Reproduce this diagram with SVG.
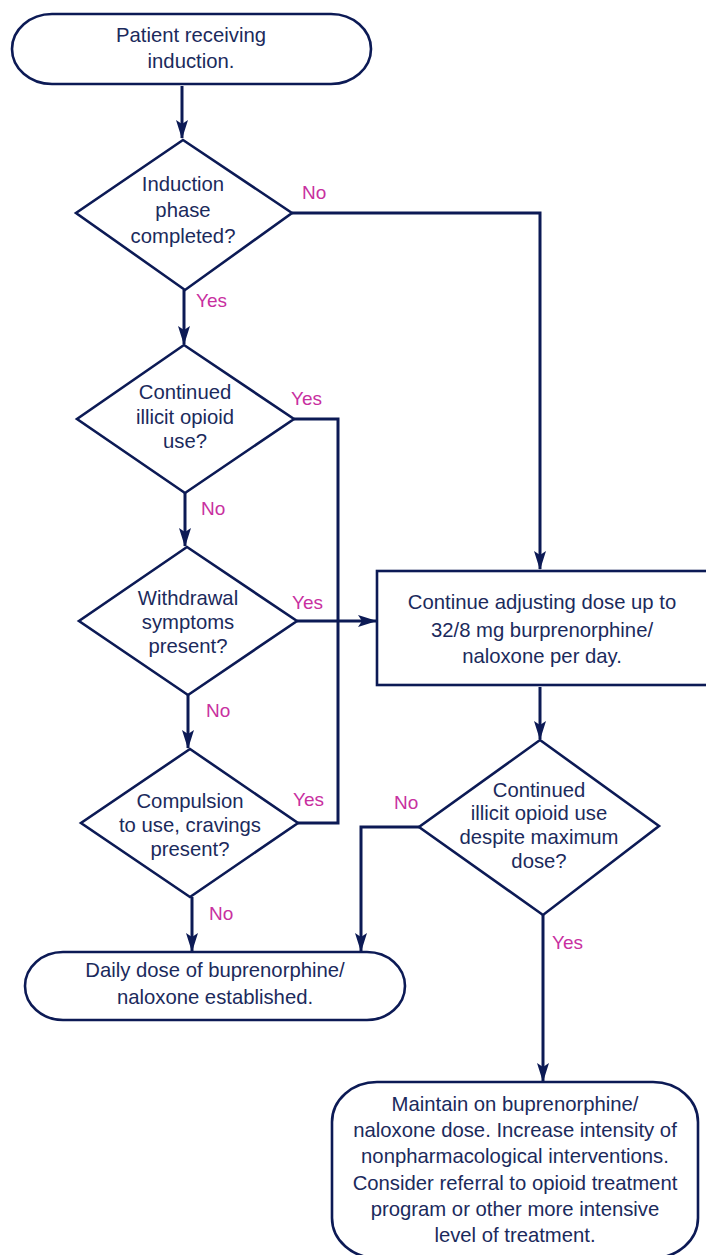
<svg xmlns="http://www.w3.org/2000/svg" width="706" height="1255" viewBox="0 0 706 1255">
<defs>
<style>
.shape{fill:#ffffff;stroke:#0c1a55;stroke-width:2.6;stroke-linejoin:miter}
.conn{fill:none;stroke:#0c1a55;stroke-width:3}
.t{font-family:"Liberation Sans",Arial,sans-serif;font-size:20.3px;fill:#1b2a5c;text-anchor:middle}
.lbl{font-family:"Liberation Sans",Arial,sans-serif;font-size:19px;fill:#c8309f}
</style>
<marker id="ah" markerUnits="userSpaceOnUse" markerWidth="20" markerHeight="12" refX="18" refY="6" orient="auto">
<path d="M0,0 L19,6 L0,12 L4,6 z" fill="#0c1a55"/>
</marker>
</defs>
<rect width="706" height="1255" fill="#ffffff"/>

<g id="connectors">
<path class="conn" d="M182,86 V138" marker-end="url(#ah)"/>
<path class="conn" d="M292,213 H540 V569" marker-end="url(#ah)"/>
<path class="conn" d="M184,290 V344" marker-end="url(#ah)"/>
<path class="conn" d="M294,419 H338 V823 H298"/>
<path class="conn" d="M185,493 V546" marker-end="url(#ah)"/>
<path class="conn" d="M297,621 H376" marker-end="url(#ah)"/>
<path class="conn" d="M188,695 V748" marker-end="url(#ah)"/>
<path class="conn" d="M192,897 V951" marker-end="url(#ah)"/>
<path class="conn" d="M540,687 V739" marker-end="url(#ah)"/>
<path class="conn" d="M419,827 H361 V951" marker-end="url(#ah)"/>
<path class="conn" d="M543,915 V1081" marker-end="url(#ah)"/>
</g>

<g id="start">
<rect class="shape" x="12" y="14" width="359" height="70" rx="40" ry="35"/>
<text class="t" x="191" y="42">Patient receiving</text>
<text class="t" x="191" y="68">induction.</text>
</g>

<g id="d-induction">
<polygon class="shape" points="183,140 292,213 185,290 76,213"/>
<text class="t" x="183" y="191">Induction</text>
<text class="t" x="183" y="217">phase</text>
<text class="t" x="183" y="243">completed?</text>
<text class="lbl" x="302" y="199">No</text>
<text class="lbl" x="196" y="307">Yes</text>
</g>

<g id="d-illicit">
<polygon class="shape" points="184,345 294,419 185,493 77,419"/>
<text class="t" x="185" y="399">Continued</text>
<text class="t" x="185" y="424">illicit opioid</text>
<text class="t" x="185" y="448">use?</text>
<text class="lbl" x="291" y="405">Yes</text>
<text class="lbl" x="201" y="515">No</text>
</g>

<g id="d-withdrawal">
<polygon class="shape" points="187,547 297,621 188,695 79,621"/>
<text class="t" x="188" y="605">Withdrawal</text>
<text class="t" x="188" y="629">symptoms</text>
<text class="t" x="188" y="653">present?</text>
<text class="lbl" x="292" y="609">Yes</text>
<text class="lbl" x="206" y="717">No</text>
</g>

<g id="d-compulsion">
<polygon class="shape" points="190,749 298,823 190,897 81,823"/>
<text class="t" x="190" y="808">Compulsion</text>
<text class="t" x="190" y="832">to use, cravings</text>
<text class="t" x="190" y="856">present?</text>
<text class="lbl" x="293" y="806">Yes</text>
<text class="lbl" x="209" y="920">No</text>
</g>

<g id="daily-dose">
<rect class="shape" x="25" y="952" width="380" height="68" rx="38" ry="34"/>
<text class="t" x="215" y="977">Daily dose of buprenorphine/</text>
<text class="t" x="215" y="1004">naloxone established.</text>
</g>

<g id="adjust">
<rect class="shape" x="377" y="571" width="340" height="114"/>
<text class="t" x="542" y="609">Continue adjusting dose up to</text>
<text class="t" x="542" y="637">32/8 mg burprenorphine/</text>
<text class="t" x="542" y="663">naloxone per day.</text>
</g>

<g id="d-maxdose">
<polygon class="shape" points="540,740 659,826 543,915 419,827"/>
<text class="t" x="539" y="797">Continued</text>
<text class="t" x="539" y="820">illicit opioid use</text>
<text class="t" x="539" y="844">despite maximum</text>
<text class="t" x="539" y="868">dose?</text>
<text class="lbl" x="394" y="809">No</text>
<text class="lbl" x="552" y="949">Yes</text>
</g>

<g id="maintain">
<rect class="shape" x="332" y="1082" width="366" height="176" rx="45" ry="40"/>
<text class="t" x="515" y="1111">Maintain on buprenorphine/</text>
<text class="t" x="515" y="1137">naloxone dose. Increase intensity of</text>
<text class="t" x="515" y="1163">nonpharmacological interventions.</text>
<text class="t" x="515" y="1190">Consider referral to opioid treatment</text>
<text class="t" x="515" y="1216">program or other more intensive</text>
<text class="t" x="515" y="1242">level of treatment.</text>
</g>
</svg>
